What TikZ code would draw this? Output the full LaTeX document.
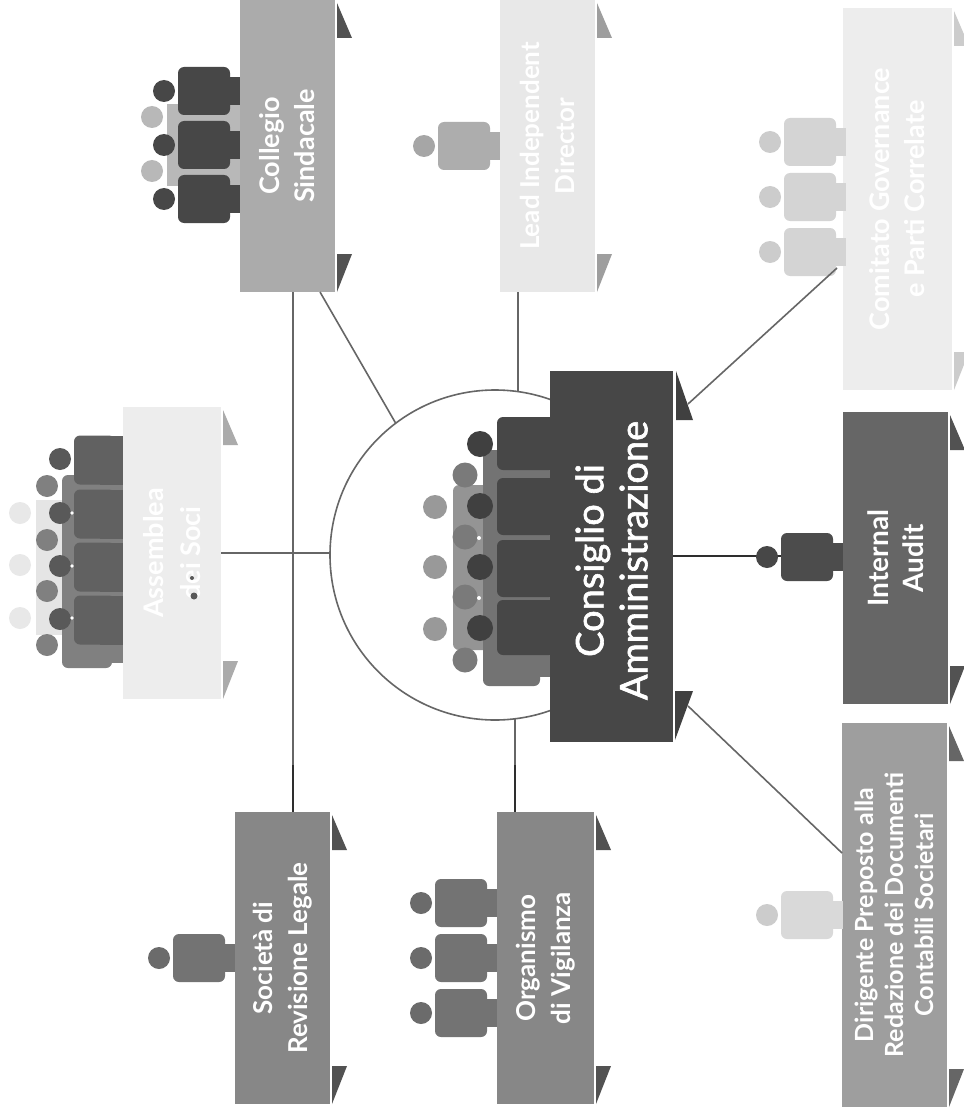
\documentclass[tikz,border=0pt]{standalone}
\usepackage{fontspec}
\setmainfont{Lato}
\newfontfamily\latomed[FakeBold=1.6]{Lato}
\usetikzlibrary{calc}
\tikzset{
  panel/.style={inner sep=0pt,outer sep=0pt,anchor=north west},
  ptext/.style={rotate=90,align=center,text=white,inner sep=0pt},
  link/.style={draw=linkgray,line width=1.6pt},
  darklink/.style={draw=linkdark,line width=2.4pt}
}
\definecolor{linkgray}{HTML}{666666}
\definecolor{linkdark}{HTML}{2E2E2E}
% \boxat{name}{x1}{y1}{x2}{y2}{fill}{ribbon}
\newcommand{\boxat}[7]{%
  \node[panel,fill=#6,minimum width={(#4-#2)*1pt},minimum height={(#5-#3)*1pt}] (#1) at (#2,#3) {};
  \fill[#7] (#4+2,#3+3) -- (#4+2,#3+38) -- (#4+17,#3+38) -- cycle;
  \fill[#7] (#4+2,#5) -- (#4+2,#5-38) -- (#4+17,#5-38) -- cycle;
}
% \person{x0}{c}{body}{head}
\newcommand{\person}[4]{%
  \fill[#3,rounded corners=6pt] (#1-62,#2-24) rectangle (#1-10,#2+24);
  \fill[#3] (#1-14,#2-14) rectangle (#1,#2+14);
  \fill[#4] (#1-76,#2) circle (11pt);
}
\begin{document}
\begin{tikzpicture}[x=1pt,y=-1pt]
\fill[white] (0,0) rectangle (963,1118);
\useasboundingbox (0,0) rectangle (963,1118);

% panels first, so connectors can name them
\boxat{assemblea}{123}{407}{221}{699}{black!7}{black!33}
\boxat{collegio}{240}{0}{335}{292}{black!33}{black!68}
\boxat{lead}{500}{0}{595}{292}{black!9}{black!38}
\boxat{comitato}{843}{8}{952}{390}{black!7}{black!20}
\boxat{internal}{843}{412}{948}{704}{black!60}{black!68}
\boxat{dirigente}{842}{723}{947}{1107}{black!38}{black!60}
\boxat{societa}{235}{812}{330}{1104}{black!47}{black!68}
\boxat{organismo}{497}{812}{594}{1104}{black!47}{black!68}

\node[circle,draw=linkgray,line width=1.6pt,fill=white,minimum size=330pt,inner sep=0pt,outer sep=0pt] (cda) at (495,555) {};

% connectors
\coordinate (cs) at (293,292);
\coordinate (cd) at (320,292);
\coordinate (ds) at (688,404);
\coordinate (dr) at (688,706);
\coordinate (csa) at (837,268);
\coordinate (dra) at (842,853);
\draw[link] (assemblea.east) -- (assemblea.east -| cda.west);
\draw[link] (cs) -- (cs |- societa.north);
\draw[darklink] ($(cs |- societa.north)+(0,-47)$) -- (cs |- societa.north);
\draw[link] (cd) -- (cda.127.6);
\draw[link] (cda.82) -- (cda.82 |- lead.south);
\draw[link] (cda.277.3) -- (cda.277.3 |- organismo.north);
\draw[darklink] ($(cda.277.3 |- organismo.north)+(0,-47)$) -- (cda.277.3 |- organismo.north);
\coordinate (cons) at (673,556);
\draw[darklink] (cons) -- (cons -| internal.west);

% Assemblea people, three rows
\fill[black!10] (36,500) rectangle (64,635);
\foreach \c in {513,565,618} {\fill[black!9] (20,\c) circle (11pt);}
\fill[black!50,rounded corners=6pt] (62,475) rectangle (112,668);
\fill[black!50] (100,475) rectangle (123,663);
\foreach \c in {486,540,591,645} {\fill[black!50] (47,\c) circle (11pt);}
\foreach \c in {460,514,567,620} {
  \fill[black!62,rounded corners=6pt] (74,\c-24.5) rectangle (115,\c+24.5);
  \fill[black!62] (100,\c-24.5) rectangle (123,\c+24.5);
  \fill[black!65] (60,\c-1) circle (11pt);
}
\foreach \c in {513,566,618} {\fill[white] (72,\c) circle (1.8pt);}

\fill[black!28] (167,104) rectangle (240,186);
\foreach \c in {117,171} {\fill[black!28] (152,\c) circle (11pt);}
\foreach \c in {91,145,199} {\person{240}{\c}{black!72}{black!72}}

\person{500}{146}{black!32}{black!35}
\foreach \c in {142,197,252} {\person{846}{\c}{black!17}{black!20}}
\person{843}{557}{black!70}{black!72}
\person{843}{915}{black!15}{black!20}
\person{235}{958}{black!55}{black!58}
\foreach \c in {903,958,1013} {\person{497}{\c}{black!55}{black!58}}

% Consiglio people, three rows
\fill[black!42,rounded corners=6pt] (453,485) rectangle (500,650);
\foreach \c in {507,567,629} {\fill[black!40] (435,\c) circle (12pt);}
\fill[black!55,rounded corners=6pt] (483,450) rectangle (540,686);
\fill[black!55] (530,450) rectangle (555,677);
\foreach \c in {475,537,597,660} {\fill[black!52] (465,\c) circle (12.5pt);}
\fill[black!72,rounded corners=6pt] (497,417) rectangle (555,470);
\fill[black!72,rounded corners=6pt] (497,478) rectangle (555,535);
\fill[black!72,rounded corners=6pt] (497,540) rectangle (555,597);
\fill[black!72,rounded corners=6pt] (497,600) rectangle (555,655);
\foreach \c in {444,506,567,628} {\fill[black!75] (480,\c) circle (13pt);}
\foreach \c in {538,598} {\fill[white] (479,\c) circle (2pt);}

% top panel with its larger ribbons
\node[panel,fill=black!72,minimum width=123pt,minimum height=371pt] (consiglio) at (550,371) {};
\fill[black!75] (676,371) -- (676,420) -- (693,420) -- cycle;
\fill[black!75] (675,740) -- (675,691) -- (693,691) -- cycle;

% diagonals, ending on the ribbons of the top panel
\draw[link] (csa) -- (ds);
\draw[link] (dra) -- (dr);

% labels
\node[ptext,font=\bfseries\fontsize{27}{37}\selectfont] (t1) at (assemblea.center) {Assemblea\\dei Soci};
\fill[black!65] (194,596) circle (3.5pt);
\fill[black!65] (192,578) circle (2pt);
\node[ptext,font=\bfseries\fontsize{27}{35}\selectfont] (t2) at (collegio.center) {Collegio\\Sindacale};
\node[ptext,font=\bfseries\fontsize{26}{35}\selectfont] (t3) at (lead.center) {Lead Independent\\Director};
\node[ptext,font=\bfseries\fontsize{27}{35}\selectfont] (t4) at (comitato.center) {Comitato Governance\\e Parti Correlate};
\node[ptext,font=\latomed\fontsize{38}{44}\selectfont,xshift=-4pt] (t5) at (consiglio.center) {Consiglio di\\Amministrazione};
\node[ptext,font=\bfseries\fontsize{28}{35}\selectfont] (t6) at (internal.center) {Internal\\Audit};
\node[ptext,font=\bfseries\fontsize{25}{30}\selectfont] (t7) at (dirigente.center) {Dirigente Preposto alla\\Redazione dei Documenti\\Contabili Societari};
\node[ptext,font=\bfseries\fontsize{26}{35}\selectfont] (t8) at (societa.center) {Società di\\Revisione Legale};
\node[ptext,font=\bfseries\fontsize{26}{35}\selectfont] (t9) at (organismo.center) {Organismo\\di Vigilanza};
\end{tikzpicture}
\end{document}
